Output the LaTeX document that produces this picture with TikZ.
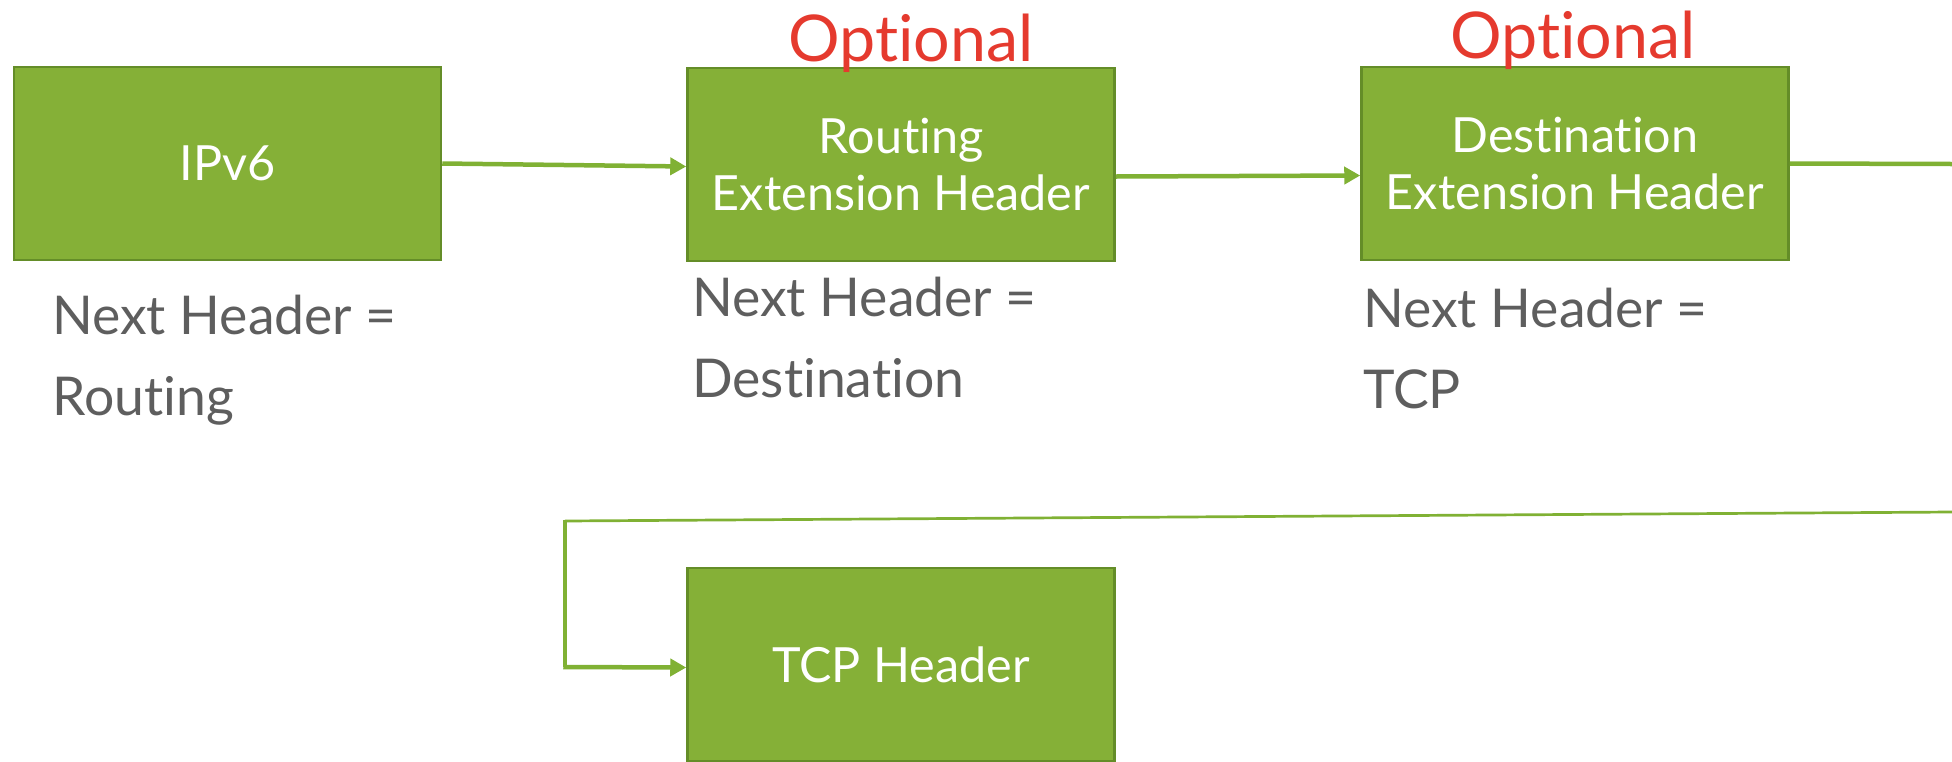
\documentclass[tikz,border=0pt]{standalone}
\usepackage{fontspec}
\setmainfont{Lato}[RawFeature=-liga]
\usetikzlibrary{arrows.meta}
\definecolor{boxfill}{RGB}{133,176,55}
\definecolor{boxline}{RGB}{100,141,40}
\definecolor{linkgreen}{RGB}{128,177,52}
\definecolor{labelgray}{RGB}{94,94,94}
\definecolor{optred}{RGB}{229,58,46}
\tikzset{
  hdrbox/.style={draw=boxline, line width=2.5pt, fill=boxfill, text=white,
    minimum width=427pt, minimum height=193pt, inner sep=0pt, align=center,
    font=\fontsize{48.5}{57}\selectfont},
  nhlabel/.style={anchor=base west, inner sep=0pt, text=labelgray,
    font=\fontsize{53.5}{81}\selectfont},
  opttext/.style={anchor=base, inner sep=0pt, text=optred,
    font=\fontsize{64.5}{72}\selectfont},
  link/.style={draw=linkgreen, line width=4.5pt, -{Triangle[length=16pt,width=17pt]}},
  plainlink/.style={draw=linkgreen, line width=4.5pt},
  looplink/.style={draw=linkgreen, line width=3.5pt, line join=miter}
}
\begin{document}
\begin{tikzpicture}[x=1pt,y=-1pt]
\useasboundingbox (0,0) rectangle (1952,761);
% boxes
\node[hdrbox] (ipv6) at (227.5,163.5) {IPv6};
\node[hdrbox] (routing) at (901,164.5) {Routing\\Extension Header};
\node[hdrbox] (dest) at (1575,163.5) {Destination\\Extension Header};
\node[hdrbox] (tcp) at (901,664.5) {TCP Header};
% optional marks
\node[opttext] (opt1) at (911,61) {Optional};
\node[opttext] (opt2) at (1573,58) {Optional};
% labels
\node[nhlabel] (lab1) at (52,334) {\begin{tabular}[t]{@{}l@{}}Next Header =\\Routing\end{tabular}};
\node[nhlabel] (lab2) at (692,316) {\begin{tabular}[t]{@{}l@{}}Next Header =\\Destination\end{tabular}};
\node[nhlabel] (lab3) at (1363,327) {\begin{tabular}[t]{@{}l@{}}Next Header =\\TCP\end{tabular}};
% connectors
\coordinate (out1) at (1952,164);
\coordinate (in1) at (1952,512);
\coordinate (corner1) at (565,521);
\coordinate (corner2) at (565,667);
\draw[link] (ipv6.east) -- ([yshift=-2pt]routing.west);
\draw[link] ([yshift=-12pt]routing.east) -- ([yshift=-12pt]dest.west);
\draw[plainlink] (dest.east) -- (out1);
\draw[draw=linkgreen, line width=2.7pt] (in1) -- (corner1);
\draw[looplink] ([yshift=1.35pt]corner1) -- (corner2);
\draw[link] ([xshift=-1.75pt]corner2) -- ([yshift=-3pt]tcp.west);
\end{tikzpicture}
\end{document}
